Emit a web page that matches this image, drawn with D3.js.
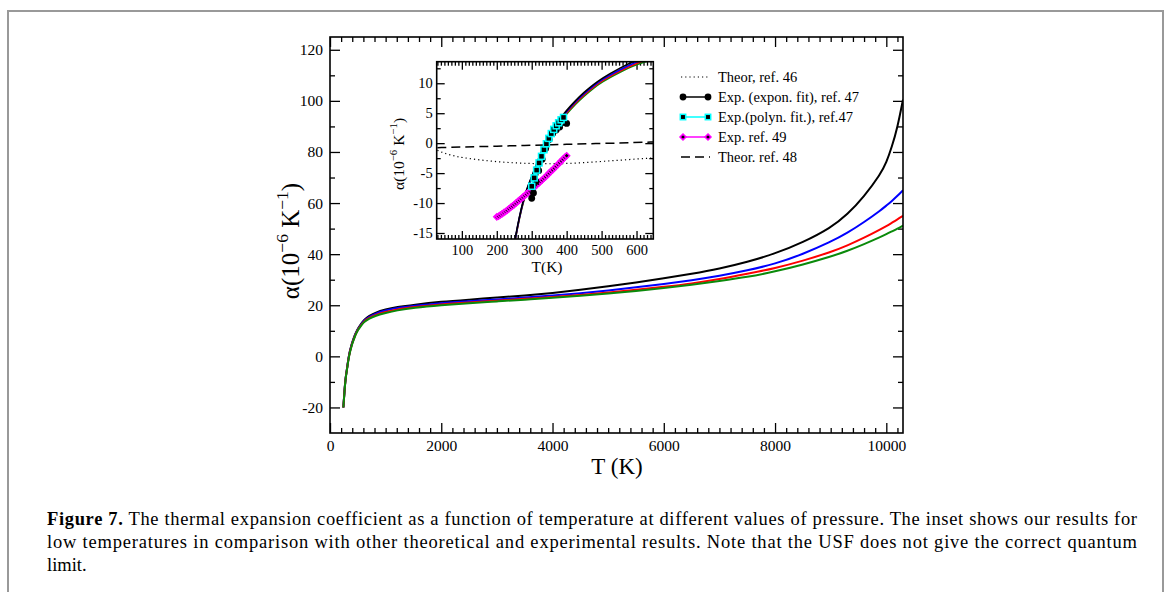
<!DOCTYPE html>
<html>
<head>
<meta charset="utf-8">
<script src="https://cdn.jsdelivr.net/npm/d3@7"></script>
<style>
  html, body { margin: 0; padding: 0; background: #fff; }
  svg { display: block; }
  text { font-family: "Liberation Serif", "Times New Roman", serif; fill: #000; }
</style>
</head>
<body>
<svg id="chart" width="1172" height="592"></svg>
<script>
// ---------------- DATA ----------------
const mainT = [240,250,260,270,280,290,300,315,330,345,360,380,400,425,450,475,500,550,600,650,700,800,1000,1200,1500,2000,2500,3000,3500,4000,4500,5000,5500,6000,6500,7000,7500,8000,8500,9000,9300,9600,9900,10000,10100,10200,10300];
const alphaBlack = [-20,-16.8,-13.6,-10.9,-8.7,-7.0,-5.6,-3.3,-1.0,0.8,2.4,4.0,5.5,7.1,8.5,9.7,10.8,12.5,13.9,15.0,15.8,17.0,18.4,19.3,20.2,21.4,22.2,23.0,23.8,24.8,26.0,27.4,28.9,30.5,32.3,34.3,36.9,40.2,44.6,50.3,55.5,62.5,71.5,75.8,82.0,89.5,100.5];
const alphaBlue  = [-20,-16.9,-13.7,-11.0,-8.8,-7.1,-5.7,-3.4,-1.2,0.6,2.2,3.8,5.3,6.9,8.3,9.5,10.6,12.2,13.6,14.6,15.4,16.6,18.0,18.9,19.7,20.9,21.6,22.3,23.0,23.8,24.7,25.8,27.0,28.3,29.8,31.5,33.6,36.2,40.0,44.8,48.3,52.5,57.2,59.0,60.8,62.8,65.0];
const alphaRed   = [-20,-17.0,-13.8,-11.1,-8.9,-7.2,-5.8,-3.5,-1.3,0.4,2.0,3.6,5.1,6.7,8.1,9.3,10.4,12.0,13.4,14.3,15.0,16.1,17.4,18.4,19.3,20.4,21.1,21.8,22.5,23.2,24.0,25.0,26.0,27.2,28.5,30.2,32.3,34.5,37.4,40.8,43.4,46.4,49.8,51.0,52.3,53.6,55.0];
const alphaGreen = [-20,-17.1,-13.9,-11.2,-9.0,-7.3,-5.9,-3.7,-1.5,0.2,1.8,3.4,4.9,6.5,7.9,9.1,10.2,11.8,13.2,14.0,14.7,15.8,17.0,18.0,19.0,20.0,20.8,21.5,22.2,22.9,23.7,24.6,25.6,26.7,28.0,29.5,31.0,33.2,35.9,39.0,41.3,43.9,46.8,47.8,48.9,50.0,51.2];
const seriesColors = ["#000000", "#0000ff", "#ff0000", "#0a8a0a"];

// inset: other works
const ref46T = [30,50,75,100,150,200,250,300,350,400,450,500,550,600,648];
const ref46A = [-1.2,-1.7,-2.1,-2.4,-2.8,-3.1,-3.3,-3.4,-3.45,-3.4,-3.25,-3.05,-2.85,-2.65,-2.45];
const ref48T = [30,100,200,300,400,500,600,648];
const ref48A = [-0.75,-0.65,-0.5,-0.35,-0.2,-0.05,0.1,0.2];
const ref47expT = [300,305,312,320,330,340,350,360,370,380,400];
const ref47expA = [-9.2,-8.3,-6.4,-4.6,-2.7,-0.9,0.6,1.6,2.2,2.7,3.3];
const ref47polT = [300,307,314,321,328,335,342,349,356,363,370,377,384,391];
const ref47polA = [-7.2,-5.8,-4.5,-3.3,-2.2,-1.1,-0.1,0.8,1.6,2.3,2.9,3.4,3.9,4.3];
const ref49T = [200,205,210,215,220,225,230,235,240,245,250,255,260,265,270,275,280,285,290,295,300,305,310,315,320,325,330,335,340,345,350,355,360,365,370,375,380,385,390,395,400];
const ref49A = [-12.3,-12.2,-12.0,-11.8,-11.6,-11.4,-11.2,-10.95,-10.7,-10.5,-10.25,-10.0,-9.75,-9.5,-9.25,-9.0,-8.75,-8.5,-8.25,-8.0,-7.75,-7.5,-7.2,-6.95,-6.7,-6.4,-6.15,-5.85,-5.6,-5.3,-5.0,-4.7,-4.45,-4.15,-3.85,-3.55,-3.25,-2.95,-2.65,-2.35,-2.1];

// ticks
const mainXTicks = [0,2000,4000,6000,8000,10000];
const mainYTicks = [-20,0,20,40,60,80,100,120];
const insetXTicks = [100,200,300,400,500,600];
const insetYTicks = [-15,-10,-5,0,5,10];

const legendLabels = ["Theor, ref. 46", "Exp. (expon. fit), ref. 47", "Exp.(polyn. fit.), ref.47", "Exp. ref. 49", "Theor. ref. 48"];
const captionBold = "Figure 7.";
const captionLines = [
  " The thermal expansion coefficient as a function of temperature at different values of pressure. The inset shows our results for",
  "low temperatures in comparison with other theoretical and experimental results. Note that the USF does not give the correct quantum",
  "limit."
];

// ---------------- DRAW ----------------
const svg = d3.select("#chart");

// figure frame
svg.append("rect").attr("x", 8).attr("y", 11).attr("width", 1155).attr("height", 620)
  .attr("fill", "none").attr("stroke", "#999").attr("stroke-width", 2);

// main plot
const M = {left: 330, right: 903, top: 37, bottom: 433};
const x = d3.scaleLinear().domain([0, 10300]).range([M.left, M.right]);
const y = d3.scaleLinear().domain([-30, 125]).range([M.bottom, M.top]);

function styleAxis(g, fs) {
  g.select(".domain").remove();
  g.selectAll(".tick line").attr("stroke", "#000").attr("stroke-width", 1.3);
  g.selectAll(".tick text").style("font-size", fs + "px").style("font-family", '"Liberation Serif", serif');
}
const xMinor = d3.range(0, 10301, 200).filter(v => v % 2000 !== 0);
const yMinor = d3.range(-30, 125, 10).filter(v => v % 20 !== 0 && v > -30);
const xFmt = d => String(d);

svg.append("g").attr("transform", `translate(0,${M.bottom})`)
  .call(d3.axisBottom(x).tickValues(mainXTicks).tickSize(-10).tickPadding(7).tickFormat(xFmt))
  .call(g => styleAxis(g, 15.5));
svg.append("g").attr("transform", `translate(0,${M.bottom})`)
  .call(d3.axisBottom(x).tickValues(xMinor).tickSize(-5).tickFormat(""))
  .call(g => styleAxis(g, 15.5));
svg.append("g").attr("transform", `translate(0,${M.top})`)
  .call(d3.axisTop(x).tickValues(mainXTicks).tickSize(-10).tickFormat(""))
  .call(g => styleAxis(g, 15.5));
svg.append("g").attr("transform", `translate(0,${M.top})`)
  .call(d3.axisTop(x).tickValues(xMinor).tickSize(-5).tickFormat(""))
  .call(g => styleAxis(g, 15.5));
svg.append("g").attr("transform", `translate(${M.left},0)`)
  .call(d3.axisLeft(y).tickValues(mainYTicks).tickSize(-10).tickPadding(7).tickFormat(xFmt))
  .call(g => styleAxis(g, 15.5));
svg.append("g").attr("transform", `translate(${M.left},0)`)
  .call(d3.axisLeft(y).tickValues(yMinor).tickSize(-5).tickFormat(""))
  .call(g => styleAxis(g, 15.5));
svg.append("g").attr("transform", `translate(${M.right},0)`)
  .call(d3.axisRight(y).tickValues(mainYTicks).tickSize(-10).tickFormat(""))
  .call(g => styleAxis(g, 15.5));
svg.append("g").attr("transform", `translate(${M.right},0)`)
  .call(d3.axisRight(y).tickValues(yMinor).tickSize(-5).tickFormat(""))
  .call(g => styleAxis(g, 15.5));

// main clip
svg.append("clipPath").attr("id", "mainClip").append("rect")
  .attr("x", M.left).attr("y", M.top).attr("width", M.right - M.left).attr("height", M.bottom - M.top);

const mainSeries = [alphaBlack, alphaBlue, alphaRed, alphaGreen];
const lineMain = d3.line().x(d => x(d[0])).y(d => y(d[1])).curve(d3.curveBasis);
const gMain = svg.append("g").attr("clip-path", "url(#mainClip)");
mainSeries.forEach((arr, i) => {
  gMain.append("path").datum(mainT.map((t, j) => [t, arr[j]]))
    .attr("d", lineMain).attr("fill", "none")
    .attr("stroke", seriesColors[i]).attr("stroke-width", 2);
});

svg.append("rect").attr("x", M.left).attr("y", M.top).attr("width", M.right - M.left).attr("height", M.bottom - M.top)
  .attr("fill", "none").attr("stroke", "#000").attr("stroke-width", 1.6);

// main axis labels
svg.append("text").attr("x", 617).attr("y", 474).attr("text-anchor", "middle")
  .style("font-size", "23px").text("T (K)");

function alphaLabel(sel, fs) {
  sel.append("tspan").text("α(10");
  sel.append("tspan").attr("dy", -0.45 * fs).style("font-size", (fs * 0.7) + "px").text("−6");
  sel.append("tspan").attr("dy", 0.45 * fs).text(" K");
  sel.append("tspan").attr("dy", -0.45 * fs).style("font-size", (fs * 0.7) + "px").text("−1");
  sel.append("tspan").attr("dy", 0.45 * fs).text(")");
}
svg.append("text").attr("transform", "translate(299,241) rotate(-90)").attr("text-anchor", "middle")
  .style("font-size", "25px").call(s => alphaLabel(s, 25));

// ---------------- INSET ----------------
const I = {left: 436.7, right: 653.3, top: 61.7, bottom: 239};
const xi = d3.scaleLinear().domain([28, 648]).range([I.left, I.right]);
const yi = d3.scaleLinear().domain([-16, 13.6]).range([I.bottom, I.top]);

svg.append("rect").attr("x", I.left).attr("y", I.top).attr("width", I.right - I.left).attr("height", I.bottom - I.top)
  .attr("fill", "#fff");

const xiMinor = d3.range(30, 648, 10).filter(v => v % 100 !== 0);
const yiMinor = [-12.5, -7.5, -2.5, 2.5, 7.5, 12.5];

svg.append("g").attr("transform", `translate(0,${I.bottom})`)
  .call(d3.axisBottom(xi).tickValues(insetXTicks).tickSize(-8).tickPadding(6).tickFormat(xFmt))
  .call(g => styleAxis(g, 14.5));
svg.append("g").attr("transform", `translate(0,${I.bottom})`)
  .call(d3.axisBottom(xi).tickValues(xiMinor).tickSize(-4).tickFormat(""))
  .call(g => styleAxis(g, 14.5));
svg.append("g").attr("transform", `translate(0,${I.top})`)
  .call(d3.axisTop(xi).tickValues(insetXTicks).tickSize(-8).tickFormat(""))
  .call(g => styleAxis(g, 14.5));
svg.append("g").attr("transform", `translate(0,${I.top})`)
  .call(d3.axisTop(xi).tickValues(xiMinor).tickSize(-4).tickFormat(""))
  .call(g => styleAxis(g, 14.5));
svg.append("g").attr("transform", `translate(${I.left},0)`)
  .call(d3.axisLeft(yi).tickValues(insetYTicks).tickSize(-8).tickPadding(4).tickFormat(xFmt))
  .call(g => styleAxis(g, 14.5));
svg.append("g").attr("transform", `translate(${I.left},0)`)
  .call(d3.axisLeft(yi).tickValues(yiMinor).tickSize(-4).tickFormat(""))
  .call(g => styleAxis(g, 14.5));
svg.append("g").attr("transform", `translate(${I.right},0)`)
  .call(d3.axisRight(yi).tickValues(insetYTicks).tickSize(-8).tickFormat(""))
  .call(g => styleAxis(g, 14.5));
svg.append("g").attr("transform", `translate(${I.right},0)`)
  .call(d3.axisRight(yi).tickValues(yiMinor).tickSize(-4).tickFormat(""))
  .call(g => styleAxis(g, 14.5));

svg.append("clipPath").attr("id", "insetClip").append("rect")
  .attr("x", I.left).attr("y", I.top).attr("width", I.right - I.left).attr("height", I.bottom - I.top);
const gIn = svg.append("g").attr("clip-path", "url(#insetClip)");
const lineIn = d3.line().x(d => xi(d[0])).y(d => yi(d[1])).curve(d3.curveBasis);
const zip = (a, b) => a.map((v, j) => [v, b[j]]);

// dotted ref 46
gIn.append("path").datum(zip(ref46T, ref46A)).attr("d", lineIn).attr("fill", "none")
  .attr("stroke", "#000").attr("stroke-width", 1.2).attr("stroke-dasharray", "1.2,3");
// dashed ref 48
gIn.append("path").datum(zip(ref48T, ref48A)).attr("d", lineIn).attr("fill", "none")
  .attr("stroke", "#000").attr("stroke-width", 1.5).attr("stroke-dasharray", "9,5");

// theory curves (same data as main), black on top
[3, 2, 1, 0].forEach(i => {
  gIn.append("path").datum(zip(mainT, mainSeries[i])).attr("d", lineIn).attr("fill", "none")
    .attr("stroke", seriesColors[i]).attr("stroke-width", 1.6);
});

// ref 49 magenta diamonds
const lineLin = d3.line().x(d => xi(d[0])).y(d => yi(d[1]));
gIn.append("path").datum(zip(ref49T, ref49A)).attr("d", lineLin).attr("fill", "none")
  .attr("stroke", "#ff00ff").attr("stroke-width", 1.5);
const diamond = d3.symbol().type(d3.symbolDiamond2).size(22);
gIn.selectAll(".dia").data(zip(ref49T, ref49A)).join("path")
  .attr("transform", d => `translate(${xi(d[0])},${yi(d[1])})`)
  .attr("d", diamond).attr("fill", "#000").attr("stroke", "#ff00ff").attr("stroke-width", 1.6);

// ref 47 expon fit, black circles
gIn.append("path").datum(zip(ref47expT, ref47expA)).attr("d", lineLin).attr("fill", "none")
  .attr("stroke", "#000").attr("stroke-width", 1.5);
gIn.selectAll(".circ").data(zip(ref47expT, ref47expA)).join("circle")
  .attr("cx", d => xi(d[0])).attr("cy", d => yi(d[1])).attr("r", 3.4).attr("fill", "#000");

// ref 47 polyn fit, cyan squares
gIn.append("path").datum(zip(ref47polT, ref47polA)).attr("d", lineLin).attr("fill", "none")
  .attr("stroke", "#00ffff").attr("stroke-width", 1.5);
gIn.selectAll(".sq").data(zip(ref47polT, ref47polA)).join("rect")
  .attr("x", d => xi(d[0]) - 3).attr("y", d => yi(d[1]) - 3).attr("width", 6).attr("height", 6)
  .attr("fill", "#000").attr("stroke", "#00ffff").attr("stroke-width", 1.5);

svg.append("rect").attr("x", I.left).attr("y", I.top).attr("width", I.right - I.left).attr("height", I.bottom - I.top)
  .attr("fill", "none").attr("stroke", "#000").attr("stroke-width", 1.6);

// inset labels
svg.append("text").attr("x", 547).attr("y", 272).attr("text-anchor", "middle")
  .style("font-size", "15.5px").text("T(K)");
svg.append("text").attr("transform", "translate(404,154) rotate(-90)").attr("text-anchor", "middle")
  .style("font-size", "15.5px").call(s => alphaLabel(s, 15.5));

// ---------------- LEGEND ----------------
const legY = d3.scalePoint().domain(legendLabels).range([77, 157]);
const lg = svg.append("g");
const lx0 = 683, lx1 = 708, ltx = 718;
legendLabels.forEach((lab, i) => {
  const yy = legY(lab);
  lg.append("text").attr("x", ltx).attr("y", yy + 5).style("font-size", "14.5px").text(lab);
});
lg.append("line").attr("x1", lx0 - 2).attr("x2", lx1 + 2).attr("y1", legY(legendLabels[0])).attr("y2", legY(legendLabels[0]))
  .attr("stroke", "#000").attr("stroke-width", 1.2).attr("stroke-dasharray", "1.2,3");
lg.append("line").attr("x1", lx0).attr("x2", lx1).attr("y1", legY(legendLabels[1])).attr("y2", legY(legendLabels[1]))
  .attr("stroke", "#000").attr("stroke-width", 1.5);
[lx0, lx1].forEach(xx => lg.append("circle").attr("cx", xx).attr("cy", legY(legendLabels[1])).attr("r", 3.4).attr("fill", "#000"));
lg.append("line").attr("x1", lx0).attr("x2", lx1).attr("y1", legY(legendLabels[2])).attr("y2", legY(legendLabels[2]))
  .attr("stroke", "#00ffff").attr("stroke-width", 1.5);
[lx0, lx1].forEach(xx => lg.append("rect").attr("x", xx - 2.7).attr("y", legY(legendLabels[2]) - 2.7).attr("width", 5.4).attr("height", 5.4)
  .attr("fill", "#000").attr("stroke", "#00ffff").attr("stroke-width", 1.5));
lg.append("line").attr("x1", lx0).attr("x2", lx1).attr("y1", legY(legendLabels[3])).attr("y2", legY(legendLabels[3]))
  .attr("stroke", "#ff00ff").attr("stroke-width", 1.5);
[lx0, lx1].forEach(xx => lg.append("path").attr("transform", `translate(${xx},${legY(legendLabels[3])})`)
  .attr("d", diamond).attr("fill", "#000").attr("stroke", "#ff00ff").attr("stroke-width", 1.6));
lg.append("line").attr("x1", lx0 - 2).attr("x2", lx1 + 2).attr("y1", legY(legendLabels[4])).attr("y2", legY(legendLabels[4]))
  .attr("stroke", "#000").attr("stroke-width", 1.5).attr("stroke-dasharray", "9,5");

// ---------------- CAPTION ----------------
const capY = [525, 548, 571];
const c1 = svg.append("text").attr("x", 47).attr("y", capY[0]).style("font-size", "18.5px")
  .attr("textLength", 1090).attr("lengthAdjust", "spacing");
c1.append("tspan").style("font-weight", "bold").text(captionBold);
c1.append("tspan").text(captionLines[0]);
svg.append("text").attr("x", 47).attr("y", capY[1]).style("font-size", "18.5px")
  .attr("textLength", 1090).attr("lengthAdjust", "spacing").text(captionLines[1]);
svg.append("text").attr("x", 47).attr("y", capY[2]).style("font-size", "18.5px").text(captionLines[2]);
</script>
</body>
</html>
